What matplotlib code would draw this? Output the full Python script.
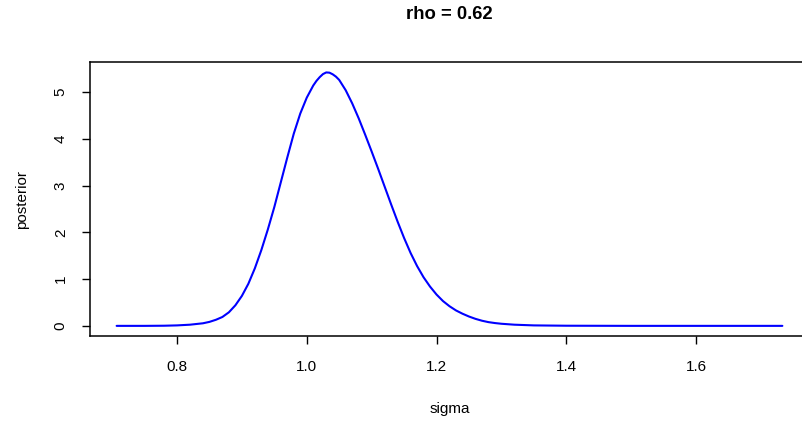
import matplotlib
matplotlib.use("Agg")
import matplotlib.pyplot as plt
import numpy as np

plt.rcParams["font.family"] = ["Liberation Sans", "DejaVu Sans"]

# Posterior density of sigma for rho = 0.62
sigma = [0.707, 0.75, 0.78, 0.80, 0.82, 0.84, 0.85, 0.86, 0.87, 0.88,
         0.89, 0.90, 0.91, 0.92, 0.93, 0.94, 0.95, 0.96, 0.97, 0.98,
         0.99, 1.00, 1.01, 1.015, 1.02, 1.025, 1.03, 1.035, 1.04, 1.045,
         1.05, 1.06, 1.07, 1.08, 1.09, 1.10, 1.11, 1.12, 1.13, 1.14,
         1.15, 1.16, 1.17, 1.18, 1.19, 1.20, 1.21, 1.22, 1.23, 1.24,
         1.25, 1.26, 1.27, 1.28, 1.29, 1.30, 1.32, 1.35, 1.40, 1.50, 1.733]
posterior = [0.0, 0.0, 0.003, 0.01, 0.025, 0.055, 0.085, 0.13, 0.19, 0.29,
             0.44, 0.64, 0.90, 1.23, 1.62, 2.06, 2.54, 3.07, 3.60, 4.11,
             4.54, 4.88, 5.14, 5.24, 5.32, 5.385, 5.42, 5.415, 5.38, 5.33,
             5.26, 5.04, 4.76, 4.44, 4.09, 3.73, 3.36, 2.98, 2.60, 2.23,
             1.88, 1.56, 1.28, 1.04, 0.84, 0.67, 0.53, 0.42, 0.33, 0.26,
             0.20, 0.15, 0.11, 0.08, 0.06, 0.045, 0.025, 0.01, 0.003, 0.0, 0.0]

x_ticks = [0.8, 1.0, 1.2, 1.4, 1.6]
x_tick_labels = ["0.8", "1.0", "1.2", "1.4", "1.6"]
y_ticks = [0, 1, 2, 3, 4, 5]
y_tick_labels = ["0", "1", "2", "3", "4", "5"]

fig = plt.figure(figsize=(8.03, 4.21), dpi=100)
# plot region in pixels: left 90, right 809 (runs past the canvas edge), top 62, bottom 336
W, H = 803.0, 421.0
ax = fig.add_axes([90 / W, (H - 336) / H, (809 - 90) / W, (336 - 62.3) / H])

ax.plot(sigma, posterior, color="#0000FF", linewidth=1.5,
        solid_joinstyle="round", solid_capstyle="round")

# R-style 4% padding of the data range
xs, ys = np.array(sigma), np.array(posterior)
xr = xs.max() - xs.min()
yr = ys.max() - ys.min()
ax.set_xlim(xs.min() - 0.04 * xr, xs.max() + 0.04 * xr)
ax.set_ylim(ys.min() - 0.04 * yr, ys.max() + 0.04 * yr)

ax.set_xticks(x_ticks)
ax.set_xticklabels(x_tick_labels)
ax.set_yticks(y_ticks)
ax.set_yticklabels(y_tick_labels, rotation=90, va="center")

for s in ax.spines.values():
    s.set_linewidth(1.1)
    s.set_color("black")

ax.tick_params(axis="both", direction="out", length=6, width=1.0,
               labelsize=11, colors="black")
ax.tick_params(axis="x", pad=11)
ax.tick_params(axis="y", pad=10)

ax.set_xlabel("sigma", fontsize=11)
ax.xaxis.set_label_coords(0.5, (336 - 409) / (336 - 62.3))
ax.xaxis.label.set_va("center")
ax.set_ylabel("posterior", fontsize=11)
ax.yaxis.set_label_coords((22 - 90) / (809 - 90), 0.5)
ax.yaxis.label.set_va("center")

ax.set_title("rho = 0.62", fontsize=13.3, fontweight="bold",
             y=(336 - 22.7) / (336 - 62.3), va="center")

fig.savefig("out.png", dpi=100)
